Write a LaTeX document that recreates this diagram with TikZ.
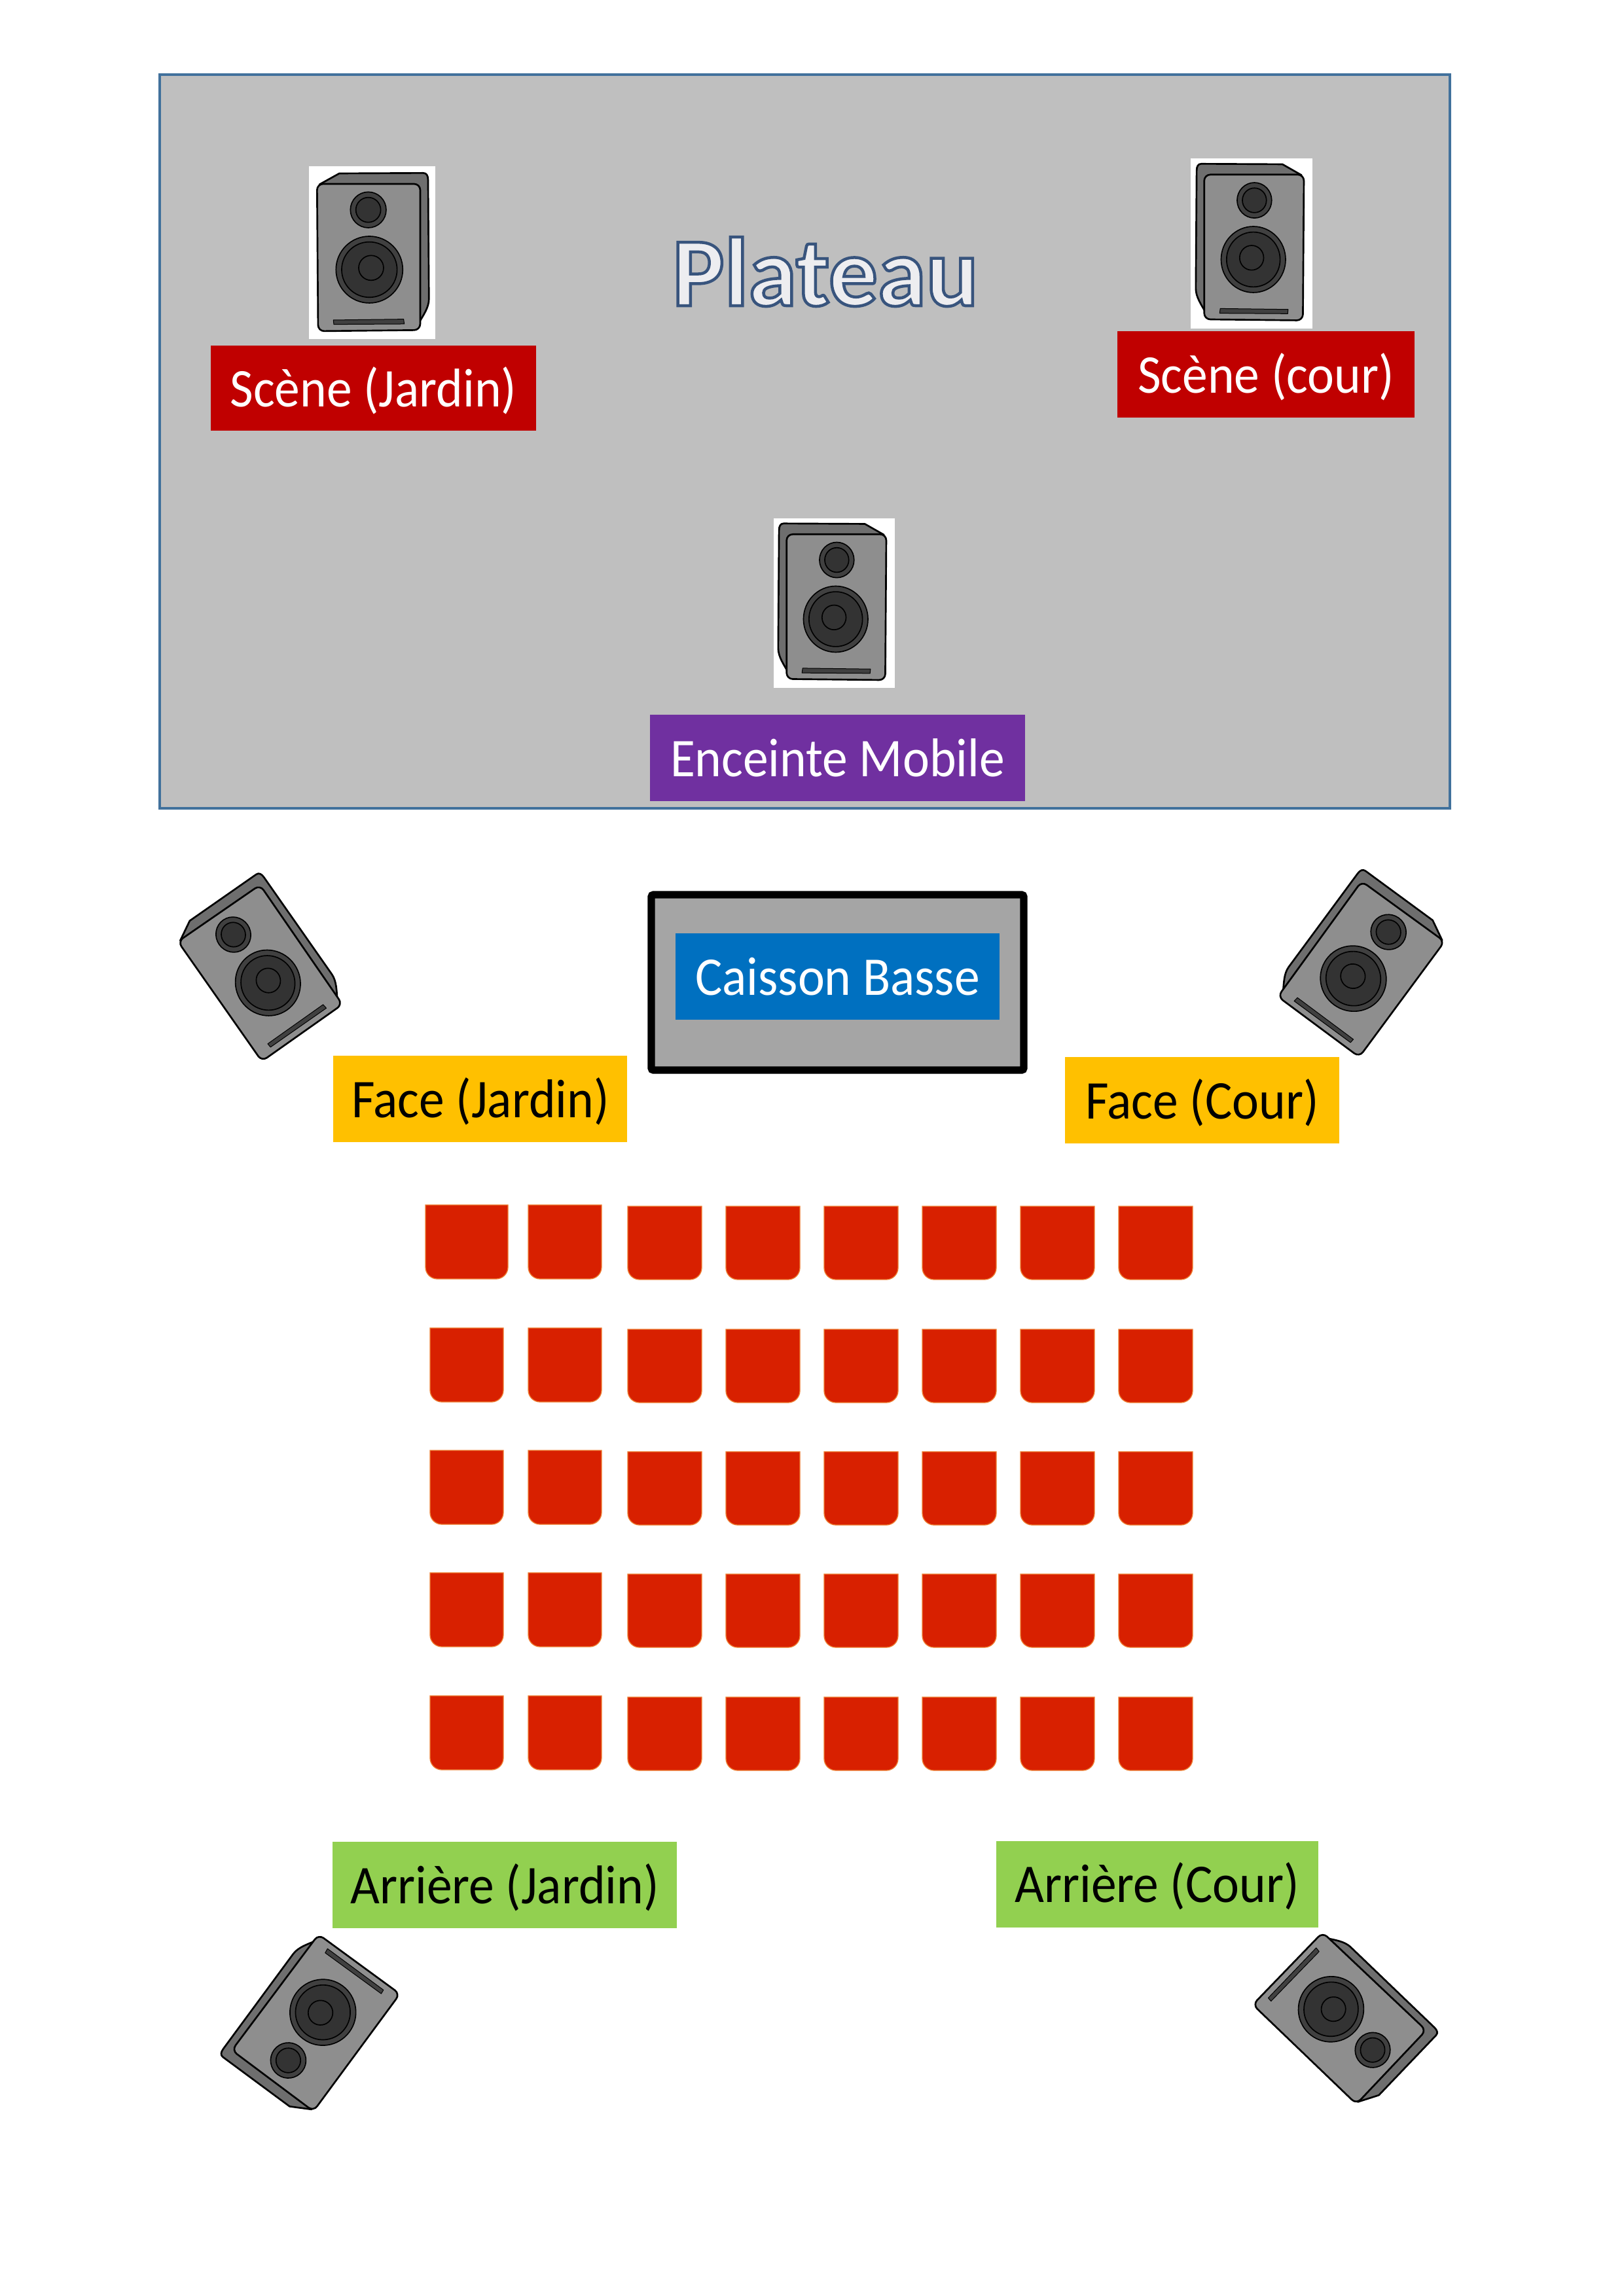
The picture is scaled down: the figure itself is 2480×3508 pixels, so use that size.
\documentclass[tikz,border=0pt]{standalone}
\usepackage{fontspec}
\setmainfont{Carlito}
\newfontfamily\labfont[FakeStretch=0.93]{Carlito}
\definecolor{plate}{HTML}{BFBFBF}
\definecolor{plateline}{HTML}{41719C}
\definecolor{scene}{HTML}{C00000}
\definecolor{mobile}{HTML}{7030A0}
\definecolor{caisson}{HTML}{0070C0}
\definecolor{caissonbg}{HTML}{A5A5A5}
\definecolor{facecol}{HTML}{FFC000}
\definecolor{backcol}{HTML}{92D050}
\definecolor{seatfill}{HTML}{D82000}
\definecolor{seatline}{HTML}{ED7D31}
\definecolor{spkside}{HTML}{6E6E6E}
\definecolor{spkface}{HTML}{8E8E8E}
\definecolor{spkring}{HTML}{404040}
\definecolor{spkcone}{HTML}{333333}
\tikzset{
  lab/.style={draw=none,inner sep=0pt,text height=16.8pt,text depth=0pt,font=\labfont\fontsize{25}{28}\selectfont},
  spkline/.style={draw=black,line width=0.8pt,line join=round},
  seatshape/.style={fill=seatfill,draw=seatline,line width=0.4pt},
  speaker/.pic={
    \draw[spkline,fill=spkside] (-225,-335) -- (-135,-385) -- (250,-387)
      .. controls (265,-387) and (272,-375) .. (272,-355) -- (276,190)
      .. controls (276,230) and (250,265) .. (230,300) -- cycle;
    \draw[spkline,fill=spkface,rounded corners=2.8pt] (-237,-337) -- (236,-337) -- (236,333) -- (-232,338) -- cycle;
    \draw[spkline,fill=spkring,line width=0.5pt] (-2,-218) circle[radius=82];
    \draw[spkline,fill=spkcone,line width=0.5pt] (-2,-218) circle[radius=57];
    \draw[spkline,fill=spkring,line width=0.5pt] (3,56) circle[radius=153];
    \draw[spkline,fill=spkcone,line width=0.5pt] (3,56) circle[radius=127];
    \draw[spkline,fill=spkcone,line width=0.5pt] (11,48) circle[radius=57];
    \draw[spkline,fill=spkring,line width=0.3pt] (-162,287) -- (160,283) -- (163,305) -- (-160,307) -- cycle;
  }
}
\begin{document}
\begin{tikzpicture}[x=0.3pt,y=-0.3pt]
\useasboundingbox (0,0) rectangle (2480,3508);
\fill[white] (0,0) rectangle (2480,3508);
% stage
\draw[fill=plate,draw=plateline,line width=1.1pt] (244,114) rectangle (2215,1235);
\node[anchor=base,inner sep=0pt,font=\bfseries\fontsize{44.8}{50}\selectfont] (plateau) at (1261,467)
  {\special{pdf:code 2 Tr 1.35 w 0.22 0.33 0.49 RG 0.93 0.93 0.94 rg}Plateau\special{pdf:code 0 Tr 0 0 0 rg 0 0 0 RG}};
% white backgrounds of the stage speakers
\fill[white] (472,254) rectangle (665,518);
\fill[white] (1819,242) rectangle (2005,502);
\fill[white] (1182,792) rectangle (1367,1051);
\pic[xscale=0.3333,yscale=0.3333] (s1) at (563.3,393.3) {speaker};
\pic[xscale=-0.322,yscale=0.33] (s2) at (1915.7,378) {speaker};
\pic[xscale=-0.322,yscale=0.33] (s3) at (1277.7,927.5) {speaker};
\pic[rotate=34.6,xscale=0.322,yscale=0.331] (s4) at (398,1487) {speaker};
\pic[rotate=-36,xscale=-0.331,yscale=0.325] (s5) at (2079,1481) {speaker};
\pic[rotate=143.2,xscale=0.329,yscale=0.33] (s6) at (483,3090) {speaker};
\pic[rotate=226.6,xscale=-0.328,yscale=0.325] (s7) at (2046,3083) {speaker};
% labels
\node[lab,fill=scene,text=white,minimum width=149.1pt,minimum height=39pt] (sj) at (570.5,593) {Scène (Jardin)};
\node[lab,fill=scene,text=white,minimum width=136.2pt,minimum height=39.6pt] (sc) at (1934,572) {Scène (cour)};
\node[lab,fill=mobile,text=white,minimum width=171.9pt,minimum height=39.6pt] (em) at (1279.5,1158) {Enceinte Mobile};
% caisson
\draw[fill=caissonbg,draw=black,line width=3.4pt,rounded corners=1pt] (995,1367) rectangle (1564,1635);
\node[lab,fill=caisson,text=white,minimum width=148.5pt,minimum height=39.6pt] (cb) at (1279.5,1492) {Caisson Basse};
\node[lab,fill=facecol,text=black,minimum width=134.7pt,minimum height=39.6pt] (fj) at (733,1679) {\hspace{0.6pt}Face (Jardin)};
\node[lab,fill=facecol,text=black,minimum width=125.7pt,minimum height=39.6pt] (fc) at (1836.5,1681) {Face (Cour)};
\node[lab,fill=backcol,text=black,minimum width=157.8pt,minimum height=39.6pt] (aj) at (771,2880) {Arrière (Jardin)};
\node[lab,fill=backcol,text=black,minimum width=147.6pt,minimum height=39.6pt] (ac) at (1767.5,2878.5) {Arrière (Cour)};
% seats
\foreach \y in {1841,2029,2216,2403,2591}{
  \foreach \x in {807}{
    \draw[seatshape] (\x,\y) -- (\x+112,\y) [rounded corners=5.4pt] -- (\x+112,\y+113) -- (\x,\y+113) [sharp corners] -- cycle;
  }
  \foreach \x in {959,1109,1259,1409,1559,1709}{
    \draw[seatshape] (\x,\y+2) -- (\x+113,\y+2) [rounded corners=5.4pt] -- (\x+113,\y+114) -- (\x,\y+114) [sharp corners] -- cycle;
  }
}
\draw[seatshape] (650,1841) -- (776,1841) [rounded corners=5.4pt] -- (776,1954) -- (650,1954) [sharp corners] -- cycle;
\foreach \y in {2029,2216,2403,2591}{
  \draw[seatshape] (657,\y) -- (769,\y) [rounded corners=5.4pt] -- (769,\y+113) -- (657,\y+113) [sharp corners] -- cycle;
}
\end{tikzpicture}
\end{document}
